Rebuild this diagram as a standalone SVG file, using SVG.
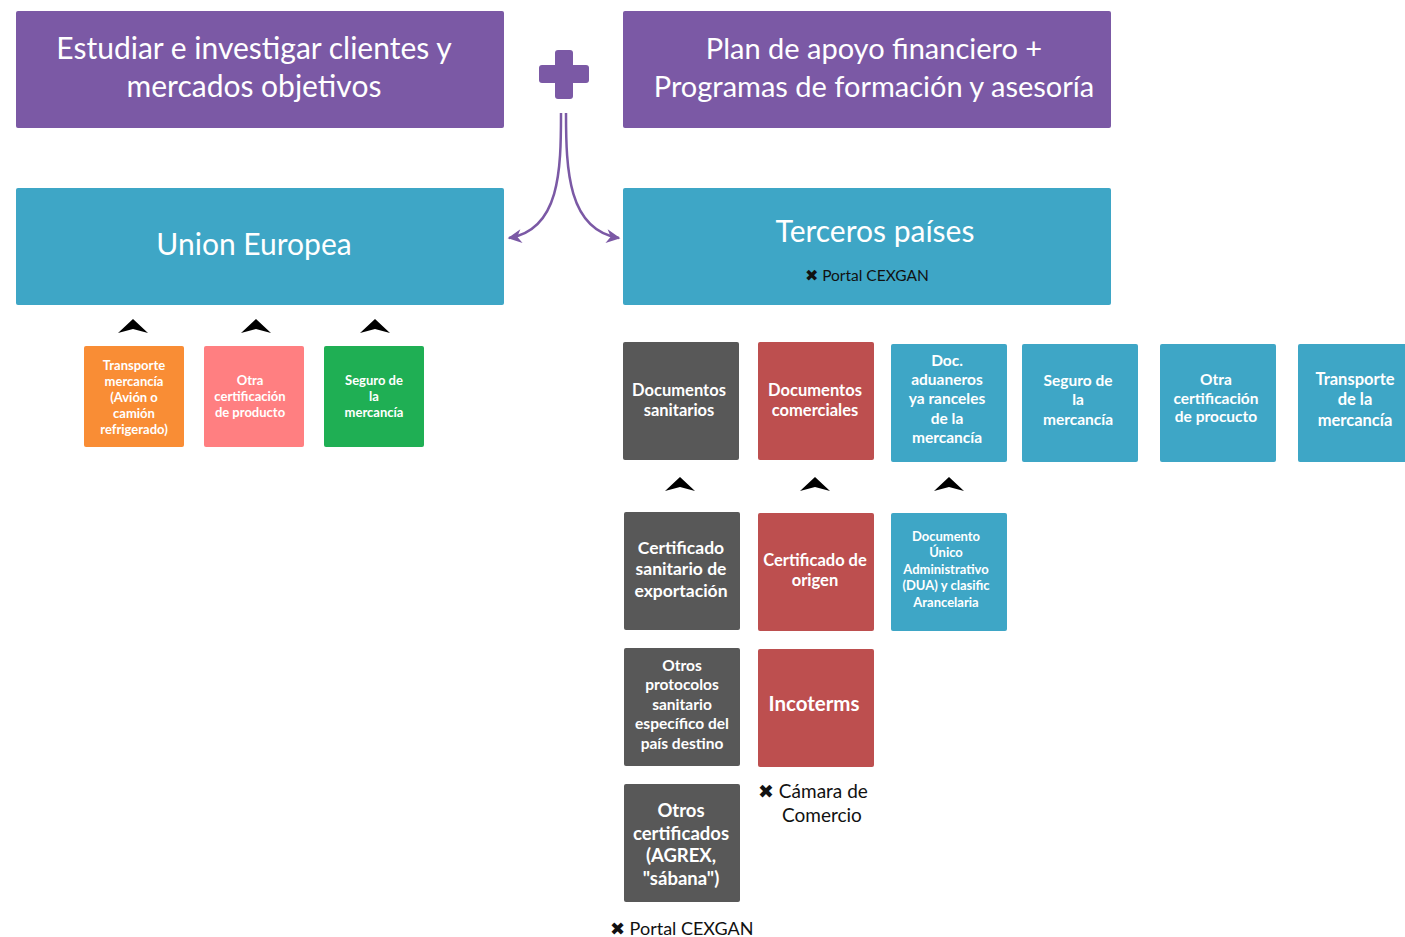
<svg xmlns="http://www.w3.org/2000/svg" width="1405" height="937" viewBox="0 0 1405 937">
<defs>
<style>
.big{font-family:Lato,"Open Sans",sans-serif;fill:#fff;text-anchor:middle}
.b{font-family:Lato,"Open Sans",sans-serif;fill:#fff;text-anchor:middle;font-weight:bold}
.note{font-family:Lato,"Open Sans",sans-serif;fill:#111}
.purple{fill:#7B59A5}
.blue{fill:#3EA6C6}
.gray{fill:#585858}
.red{fill:#BD4F4F}
.chev{fill:#000}
</style>
<marker id="ah" viewBox="0 0 10 10" refX="9" refY="5" markerWidth="17" markerHeight="14" orient="auto-start-reverse" markerUnits="userSpaceOnUse">
<path d="M0,0 L10,5 L0,10 L3,5 z" fill="#7B59A5"/>
</marker>
<path id="chv" d="M-15,7 L0,-7 L15,7 L0,3 z"/>
</defs>
<rect width="1405" height="937" fill="#fff"/>

<g id="n-estudiar"><rect class="purple" x="16" y="11" width="488" height="117" rx="2"/>
<text class="big" font-size="30" x="254" y="59">Estudiar e investigar clientes y</text>
<text class="big" font-size="30" x="254" y="97">mercados objetivos</text></g>

<g id="plus"><rect class="purple" x="555" y="50" width="18" height="49" rx="3"/><rect class="purple" x="539" y="65" width="50" height="18" rx="3"/></g>

<g id="n-plan"><rect class="purple" x="623" y="11" width="488" height="117" rx="2"/>
<text class="big" font-size="29" x="874" y="59">Plan de apoyo financiero +</text>
<text class="big" font-size="29" x="874" y="97">Programas de formación y asesoría</text></g>

<g id="n-ue"><rect class="blue" x="16" y="188" width="488" height="117" rx="2"/>
<text class="big" font-size="30" x="254" y="255">Union Europea</text></g>

<g id="n-terceros"><rect class="blue" x="623" y="188" width="488" height="117" rx="2"/>
<text class="big" font-size="30" x="875" y="242">Terceros países</text>
<text class="note" x="867" y="281" text-anchor="middle" font-size="15.5">✖ Portal CEXGAN</text></g>

<g id="connectors" fill="none" stroke="#7B59A5" stroke-width="2.5">
<path d="M561,113 C561,170 560,230 509,238" marker-end="url(#ah)"/>
<path d="M566,113 C566,170 568,230 619,238" marker-end="url(#ah)"/>
<g stroke="none" class="chev">
<use href="#chv" x="133" y="326"/><use href="#chv" x="256" y="326"/><use href="#chv" x="375" y="326"/>
<use href="#chv" x="680" y="484"/><use href="#chv" x="815" y="484"/><use href="#chv" x="949" y="484"/>
</g>
</g>

<g id="n-transporte"><rect fill="#F98D35" x="84" y="346" width="100" height="101" rx="2"/>
<text class="b" font-size="13"><tspan x="134" y="370">Transporte</tspan><tspan x="134" y="386">mercancía</tspan><tspan x="134" y="402">(Avión o</tspan><tspan x="134" y="418">camión</tspan><tspan x="134" y="434">refrigerado)</tspan></text></g>
<g id="n-otra-ue"><rect fill="#FF7F81" x="204" y="346" width="100" height="101" rx="2"/>
<text class="b" font-size="13"><tspan x="250" y="385">Otra</tspan><tspan x="250" y="401">certificación</tspan><tspan x="250" y="417">de producto</tspan></text></g>
<g id="n-seguro-ue"><rect fill="#1FAF54" x="324" y="346" width="100" height="101" rx="2"/>
<text class="b" font-size="13"><tspan x="374" y="385">Seguro de</tspan><tspan x="374" y="401">la</tspan><tspan x="374" y="417">mercancía</tspan></text></g>

<g id="n-docsan"><rect class="gray" x="623" y="342" width="116" height="118" rx="2"/>
<text class="b" font-size="16.5"><tspan x="679" y="396">Documentos</tspan><tspan x="679" y="416">sanitarios</tspan></text></g>
<g id="n-doccom"><rect class="red" x="758" y="342" width="116" height="118" rx="2"/>
<text class="b" font-size="16.5"><tspan x="815" y="396">Documentos</tspan><tspan x="815" y="416">comerciales</tspan></text></g>
<g id="n-docadu"><rect class="blue" x="891" y="344" width="116" height="118" rx="2"/>
<text class="b" font-size="15.5"><tspan x="947" y="366">Doc.</tspan><tspan x="947" y="385">aduaneros</tspan><tspan x="947" y="404">ya ranceles</tspan><tspan x="947" y="424">de la</tspan><tspan x="947" y="443">mercancía</tspan></text></g>
<g id="n-seguro-tp"><rect class="blue" x="1022" y="344" width="116" height="118" rx="2"/>
<text class="b" font-size="15.5"><tspan x="1078" y="386">Seguro de</tspan><tspan x="1078" y="405">la</tspan><tspan x="1078" y="425">mercancía</tspan></text></g>
<g id="n-otra-tp"><rect class="blue" x="1160" y="344" width="116" height="118" rx="2"/>
<text class="b" font-size="15.5"><tspan x="1216" y="385">Otra</tspan><tspan x="1216" y="404">certificación</tspan><tspan x="1216" y="422">de procucto</tspan></text></g>
<g id="n-transp-tp"><rect class="blue" x="1298" y="344" width="120" height="118" rx="2"/>
<text class="b" font-size="16.5"><tspan x="1355" y="385">Transporte</tspan><tspan x="1355" y="405">de la</tspan><tspan x="1355" y="426">mercancía</tspan></text></g>

<g id="n-certsan"><rect class="gray" x="624" y="512" width="116" height="118" rx="2"/>
<text class="b" font-size="17.5"><tspan x="681" y="554">Certificado</tspan><tspan x="681" y="575">sanitario de</tspan><tspan x="681" y="597">exportación</tspan></text></g>
<g id="n-certori"><rect class="red" x="758" y="513" width="116" height="118" rx="2"/>
<text class="b" font-size="16.5"><tspan x="815" y="566">Certificado de</tspan><tspan x="815" y="586">origen</tspan></text></g>
<g id="n-dua"><rect class="blue" x="891" y="513" width="116" height="118" rx="2"/>
<text class="b" font-size="13"><tspan x="946" y="541">Documento</tspan><tspan x="946" y="557">Único</tspan><tspan x="946" y="574">Administrativo</tspan><tspan x="946" y="590">(DUA)  y clasific</tspan><tspan x="946" y="607">Arancelaria</tspan></text></g>

<g id="n-otrosprot"><rect class="gray" x="624" y="648" width="116" height="118" rx="2"/>
<text class="b" font-size="15.5"><tspan x="682" y="671">Otros</tspan><tspan x="682" y="690">protocolos</tspan><tspan x="682" y="710">sanitario</tspan><tspan x="682" y="729">específico del</tspan><tspan x="682" y="749">país destino</tspan></text></g>
<g id="n-incoterms"><rect class="red" x="758" y="649" width="116" height="118" rx="2"/>
<text class="b" font-size="20.5" x="814" y="711">Incoterms</text></g>
<g id="n-otroscert"><rect class="gray" x="624" y="784" width="116" height="118" rx="2"/>
<text class="b" font-size="18.5"><tspan x="681" y="817">Otros</tspan><tspan x="681" y="840">certificados</tspan><tspan x="681" y="862">(AGREX,</tspan><tspan x="681" y="885">"sábana")</tspan></text></g>

<g id="note-camara"><text class="note" font-size="19"><tspan x="758" y="798">✖ Cámara de</tspan><tspan x="782" y="822">Comercio</tspan></text></g>
<g id="note-portal"><text class="note" font-size="18" x="610" y="935">✖ Portal CEXGAN</text></g>
</svg>
